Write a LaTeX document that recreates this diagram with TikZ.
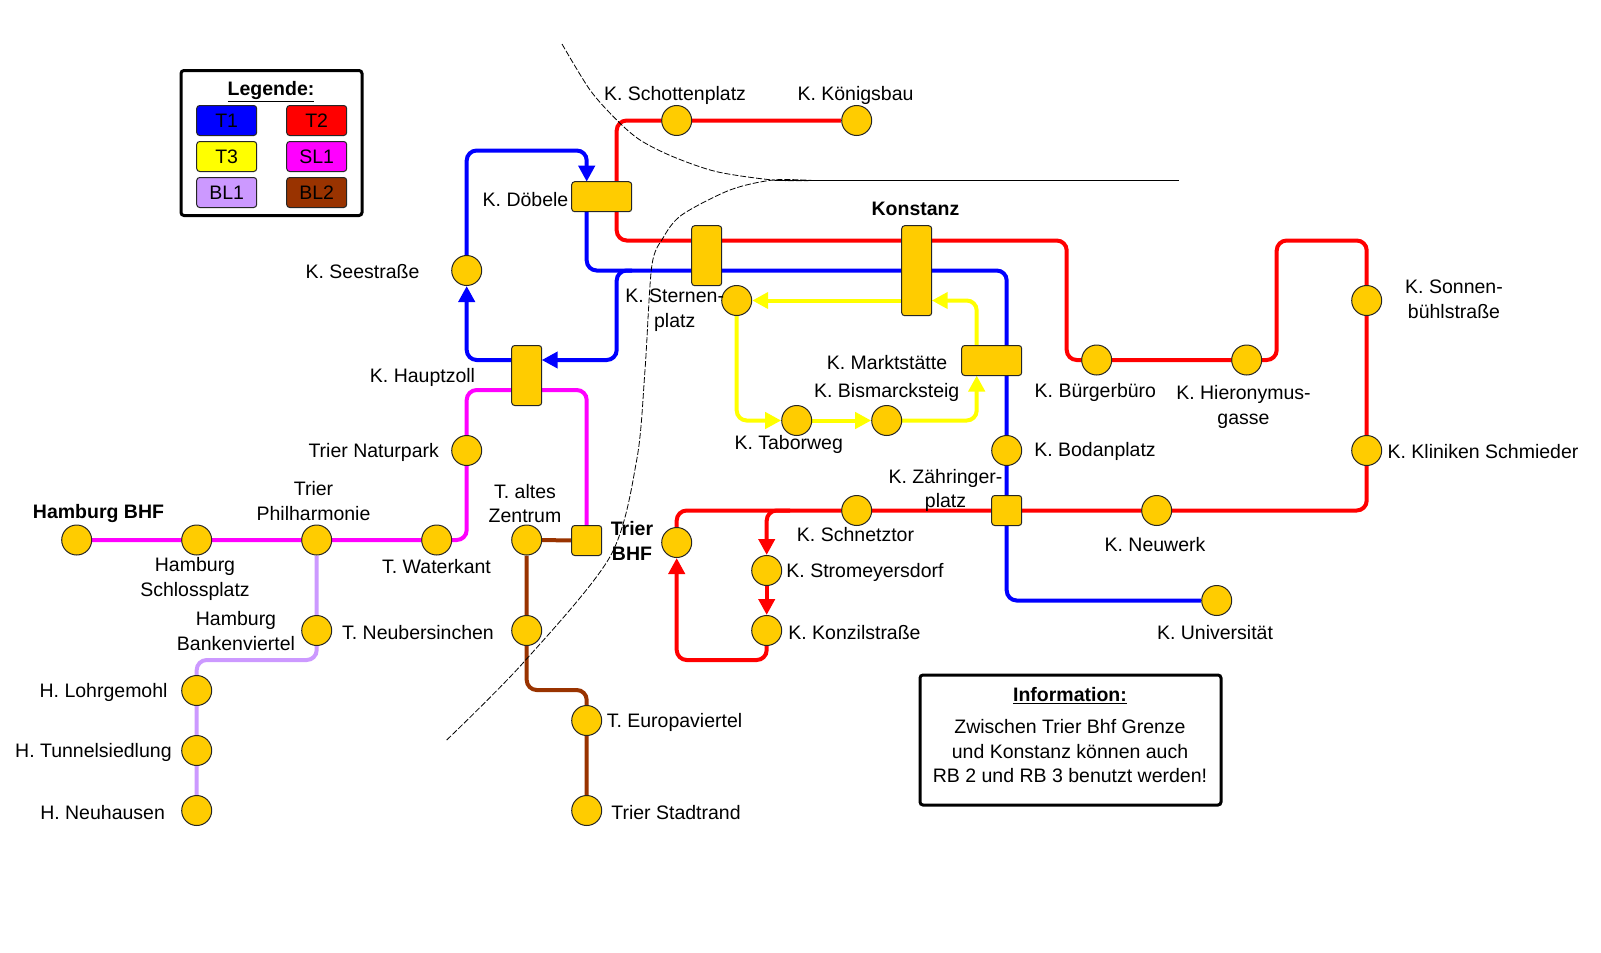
\documentclass[tikz,border=0pt]{standalone}
\usepackage{fontspec}
\setmainfont{Liberation Sans}
\usetikzlibrary{arrows.meta,backgrounds}
\definecolor{stopgold}{HTML}{FFCC00}
\definecolor{lineblue}{HTML}{0000FF}
\definecolor{linered}{HTML}{FF0000}
\definecolor{lineyellow}{HTML}{FFFF00}
\definecolor{linepink}{HTML}{FF00FF}
\definecolor{lineviolet}{HTML}{CC99FF}
\definecolor{linebrown}{HTML}{993300}
\tikzset{
    every node/.append style={font=\fontsize{19.5}{24.5}\selectfont},
    stop/.style={circle,draw=black!85,fill=stopgold,line width=1pt,minimum size=30pt,inner sep=0pt},
    hub/.style={rectangle,rounded corners=3pt,draw=black!85,fill=stopgold,line width=1pt,inner sep=0pt},
    txt/.style={inner sep=0pt,align=center,yshift=-1.5pt},
    legkey/.style={rectangle,rounded corners=3pt,draw=black!85,line width=1pt,minimum width=60pt,minimum height=30pt,inner sep=0pt},
    frame/.style={rectangle,rounded corners=3pt,draw=black,line width=3pt,fill=white,inner sep=0pt},
    route/.style={line width=4pt,rounded corners=10pt},
    tip/.style={-{Triangle[width=16pt,length=16pt]}},
    border/.style={line width=0.8pt,dash pattern=on 6pt off 2pt},
}
\begin{document}
\begin{tikzpicture}[x=1pt,y=-1pt]
    \useasboundingbox (0,0) rectangle (1601,953);
    % legend
    \node[frame,minimum width=181pt,minimum height=145pt] (legende) at (271.5,143) {};
    \node[txt] (legendetitel) at (271,90.5) {\textbf{\underline{Legende:}}};
    \node[legkey,fill=lineblue] (keyta) at (226.7,120.5) {T1};
    \node[legkey,fill=linered] (keytb) at (316.7,120.5) {T2};
    \node[legkey,fill=lineyellow] (keytc) at (226.7,156.5) {T3};
    \node[legkey,fill=linepink] (keysl) at (316.7,156.5) {SL1};
    \node[legkey,fill=lineviolet] (keybla) at (226.7,192.5) {BL1};
    \node[legkey,fill=linebrown] (keyblb) at (316.7,192.5) {BL2};
    % information
    \node[frame,minimum width=301pt,minimum height=130pt] (infobox) at (1070.5,740) {};
    \node[txt] (infotitel) at (1070,694.5) {\textbf{\underline{Information:}}};
    \node[txt] (infotext) at (1070,750) {Zwischen Trier Bhf Grenze\\und Konstanz k\"onnen auch\\RB 2 und RB 3 benutzt werden!};
    % stops
    \node[stop] (schottenplatz) at (676.7,120.5) {};
    \node[stop] (koenigsbau) at (856.7,120.5) {};
    \node[stop] (seestrasse) at (466.7,270.5) {};
    \node[stop] (sternenplatz) at (736.7,300.5) {};
    \node[stop] (buergerbuero) at (1096.7,360) {};
    \node[stop] (hieronymus) at (1246.7,360) {};
    \node[stop] (sonnen) at (1366.7,300.5) {};
    \node[stop] (kliniken) at (1366.7,450.5) {};
    \node[stop] (bodanplatz) at (1006.7,450.5) {};
    \node[stop] (taborweg) at (796.7,420.5) {};
    \node[stop] (bismarck) at (886.7,420.5) {};
    \node[stop] (schnetztor) at (856.7,510.5) {};
    \node[stop] (neuwerk) at (1156.7,510.5) {};
    \node[stop] (triereast) at (676.7,542.5) {};
    \node[stop] (stromeyer) at (766.7,570.5) {};
    \node[stop] (konzil) at (766.7,630.5) {};
    \node[stop] (universitaet) at (1216.7,600.5) {};
    \node[stop] (naturpark) at (466.7,450.5) {};
    \node[stop] (waterkant) at (436.7,540) {};
    \node[stop] (zentrum) at (526.7,540) {};
    \node[stop] (neubersinchen) at (526.7,630.5) {};
    \node[stop] (europa) at (586.7,720.5) {};
    \node[stop] (stadtrand) at (586.7,810.5) {};
    \node[stop] (philharmonie) at (316.7,540) {};
    \node[stop] (schlossplatz) at (196.7,540) {};
    \node[stop] (hamburg) at (76.7,540) {};
    \node[stop] (bankenviertel) at (316.7,630.5) {};
    \node[stop] (lohrgemohl) at (196.7,690.5) {};
    \node[stop] (tunnel) at (196.7,750.5) {};
    \node[stop] (neuhausen) at (196.7,810.5) {};
    % hubs
    \node[hub,minimum width=60pt,minimum height=30pt] (doebele) at (601.7,196.7) {};
    \node[hub,minimum width=30pt,minimum height=60pt] (sternenhub) at (706.7,255.7) {};
    \node[hub,minimum width=30pt,minimum height=90pt] (konstanz) at (916.7,270.7) {};
    \node[hub,minimum width=60pt,minimum height=30pt] (marktstaette) at (991.7,360.5) {};
    \node[hub,minimum width=30pt,minimum height=60pt] (hauptzoll) at (526.7,375.5) {};
    \node[hub,minimum width=30pt,minimum height=30pt] (zaehringer) at (1006.7,510.5) {};
    \node[hub,minimum width=30pt,minimum height=30pt] (trierwest) at (586.7,540.5) {};
    % corners of the routes
    \coordinate (doebelen) at (586.7,181.7);
    \coordinate (doebeles) at (586.7,211.7);
    \coordinate (hauptw) at (526.7,360);
    \coordinate (haupto) at (541.7,360);
    \coordinate (konstanzo) at (931.7,300.5);
    \coordinate (konstanzw) at (901.7,300.5);
    \coordinate (marktn) at (976.7,345.5);
    \coordinate (markts) at (976.7,375.5);
    \coordinate (ba) at (466.7,360);
    \coordinate (bb) at (466.7,150.5);
    \coordinate (bc) at (586.7,150.5);
    \coordinate (bd) at (586.7,270.5);
    \coordinate (be) at (1006.7,270.5);
    \coordinate (bf) at (1006.7,600.5);
    \coordinate (bg) at (632,270.5);
    \coordinate (bh) at (616.7,270.5);
    \coordinate (bi) at (616.7,360);
    \coordinate (ra) at (616.7,120.5);
    \coordinate (rb) at (616.7,240.5);
    \coordinate (rc) at (1066.7,240.5);
    \coordinate (rd) at (1066.7,360);
    \coordinate (re) at (1276.7,360);
    \coordinate (rf) at (1276.7,240.5);
    \coordinate (rg) at (1366.7,240.5);
    \coordinate (rh) at (1366.7,510.5);
    \coordinate (ri) at (676.7,510.5);
    \coordinate (rj) at (790,510.5);
    \coordinate (rk) at (766.7,510.5);
    \coordinate (rl) at (766.7,660);
    \coordinate (rm) at (676.7,660);
    \coordinate (ya) at (976.7,300.5);
    \coordinate (yb) at (736.7,420.5);
    \coordinate (yc) at (976.7,420.5);
    \coordinate (ma) at (466.7,540);
    \coordinate (mb) at (466.7,390);
    \coordinate (mc) at (586.7,390);
    \coordinate (va) at (316.7,660);
    \coordinate (vb) at (196.7,660);
    \coordinate (na) at (526.7,690);
    \coordinate (nb) at (586.7,690);
    % routes behind the stops
    \begin{pgfonlayer}{background}
        \draw[route,color=lineblue,tip] (hauptw) -- (ba) -- (seestrasse);
        \draw[route,color=lineblue,tip] (seestrasse) -- (bb) -- (bc) -- (doebelen);
        \draw[route,color=lineblue] (doebeles) -- (bd) -- (be) -- (bf) -- (universitaet);
        \draw[route,color=lineblue,tip] (bg) -- (bh) -- (bi) -- (haupto);
        \draw[route,color=linered] (koenigsbau) -- (ra) -- (rb) -- (rc) -- (rd) -- (re) -- (rf) -- (rg) -- (rh) -- (ri) -- (triereast);
        \draw[route,color=linered,tip] (rj) -- (rk) -- (stromeyer);
        \draw[route,color=linered,tip] (stromeyer) -- (konzil);
        \draw[route,color=linered,tip] (konzil) -- (rl) -- (rm) -- (triereast);
        \draw[route,color=lineyellow,tip] (marktn) -- (ya) -- (konstanzo);
        \draw[route,color=lineyellow,tip] (konstanzw) -- (sternenplatz);
        \draw[route,color=lineyellow,tip] (sternenplatz) -- (yb) -- (taborweg);
        \draw[route,color=lineyellow,tip] (taborweg) -- (bismarck);
        \draw[route,color=lineyellow,tip] (bismarck) -- (yc) -- (markts);
        \draw[route,color=linepink] (hamburg) -- (ma) -- (mb) -- (mc) -- (trierwest);
        \draw[route,color=lineviolet] (philharmonie) -- (va) -- (vb) -- (neuhausen);
        \draw[route,color=linebrown] (trierwest) -- (zentrum) -- (na) -- (nb) -- (stadtrand);
    \end{pgfonlayer}
    % borders
    \draw[border] plot[smooth] coordinates {(562,44) (590,90) (616.7,120) (640,140) (673,156.7) (716.7,171.7) (773,180) (813,180.5)};
    \draw[border] plot[smooth] coordinates {(446.7,740) (523,663) (610,556.7) (636.7,460) (645,370) (651.7,266.7) (663,238) (681.7,215) (730,190) (773,180) (813,180.5)};
    \draw[line width=0.8pt] (775,180.5) -- (1179,180.5);
    % labels
    \node[txt] (labschotten) at (675,93.5) {K. Schottenplatz};
    \node[txt] (labkoenig) at (855.5,93.5) {K. K\"onigsbau};
    \node[txt] (labdoebele) at (525.5,198) {K. D\"obele};
    \node[txt] (labsee) at (362.5,270.5) {K. Seestra\ss e};
    \node[txt] (labhaupt) at (422.5,375.7) {K. Hauptzoll};
    \node[txt,font=\fontsize{19.5}{24.5}\selectfont\bfseries] (labkonstanz) at (915.5,207.7) {Konstanz};
    \node[txt] (labsternen) at (674.7,308.5) {K. Sternen-\\platz};
    \node[txt] (labmarkt) at (887,360.7) {K. Marktst\"atte};
    \node[txt] (labbismarck) at (886.7,390.7) {K. Bismarcksteig};
    \node[txt] (labtabor) at (788.7,442.7) {K. Taborweg};
    \node[txt] (labbodan) at (1095,450) {K. Bodanplatz};
    \node[txt] (labbuerger) at (1095.4,391) {K. B\"urgerb\"uro};
    \node[txt] (labhieron) at (1243.5,405.5) {K. Hieronymus-\\gasse};
    \node[txt] (labsonnen) at (1454,298) {K. Sonnen-\\b\"uhlstra\ss e};
    \node[txt] (labkliniken) at (1483,450) {K. Kliniken Schmieder};
    \node[txt] (labzaehr) at (945.5,489) {K. Z\"ahringer-\\platz};
    \node[txt] (labneuwerk) at (1155,543) {K. Neuwerk};
    \node[txt] (labuni) at (1215,631) {K. Universit\"at};
    \node[txt] (labschnetz) at (855.5,533) {K. Schnetztor};
    \node[txt] (labstromeyer) at (865,570.7) {K. Stromeyersdorf};
    \node[txt] (labkonzil) at (854.5,631) {K. Konzilstra\ss e};
    \node[txt,font=\fontsize{19.5}{24.5}\selectfont\bfseries] (labtrier) at (632,539.5) {Trier\\BHF};
    \node[txt] (labzentrum) at (525,502) {T. altes\\Zentrum};
    \node[txt] (labeuropa) at (674.5,720.7) {T. Europaviertel};
    \node[txt] (labstadtrand) at (676,810.6) {Trier Stadtrand};
    \node[txt] (labneuber) at (418,631) {T. Neubersinchen};
    \node[txt] (labwater) at (436.5,565) {T. Waterkant};
    \node[txt] (labnatur) at (373.7,450.5) {Trier Naturpark};
    \node[txt] (labphil) at (313.5,499.5) {Trier\\Philharmonie};
    \node[txt,font=\fontsize{19.5}{24.5}\selectfont\bfseries] (labhamburg) at (98.5,511.5) {Hamburg BHF};
    \node[txt] (labschloss) at (195,577.5) {Hamburg\\Schlossplatz};
    \node[txt] (labbanken) at (236,629.5) {Hamburg\\Bankenviertel};
    \node[txt] (lablohr) at (103.6,691) {H. Lohrgemohl};
    \node[txt] (labtunnel) at (93.4,750.5) {H. Tunnelsiedlung};
    \node[txt] (labneuhausen) at (102.6,810.6) {H. Neuhausen};
\end{tikzpicture}
\end{document}
